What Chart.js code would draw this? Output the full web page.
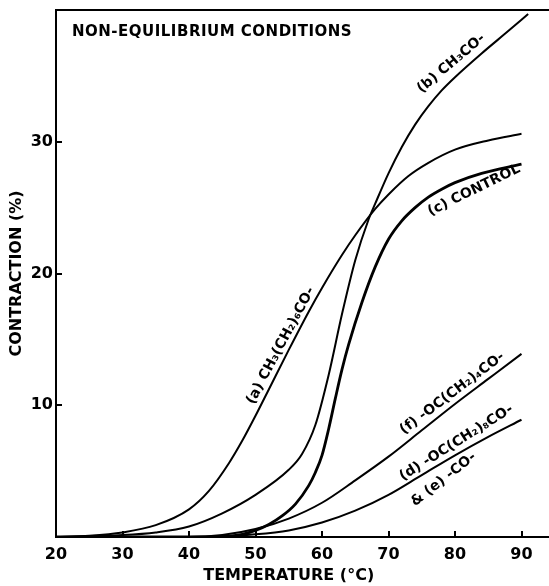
<!DOCTYPE html>
<html>
<head>
<meta charset="utf-8">
<script src="https://cdn.jsdelivr.net/npm/chart.js@4"></script>
<style>
  html, body { margin: 0; padding: 0; background: #fff; overflow: hidden; }
  #wrap { width: 549px; height: 586px; overflow: hidden; }
</style>
</head>
<body>
<div id="wrap"><canvas id="contractionChart" width="600" height="586"></canvas></div>
<script>
// temperature (C) vs contraction (%)
const tempA = [20, 25, 30, 35, 40, 43, 46, 48, 50, 52, 55, 58, 60, 63, 65, 68, 70, 73, 76, 80, 85, 90];
const contractA = [0, 0.1, 0.35, 0.9, 2.1, 3.5, 5.6, 7.3, 9.2, 11.2, 14.2, 17.1, 18.9, 21.4, 22.9, 24.9, 26.0, 27.4, 28.4, 29.4, 30.1, 30.6];

const tempB = [20, 30, 35, 40, 45, 50, 55, 57, 59, 61, 63, 65, 67, 68, 70, 72, 74, 76, 78, 80, 84, 88, 91];
const contractB = [0, 0.15, 0.35, 0.8, 1.8, 3.2, 5.1, 6.3, 8.5, 12.3, 16.9, 21.0, 24.1, 25.3, 27.6, 29.6, 31.3, 32.7, 33.9, 34.9, 36.7, 38.4, 39.7];

const tempC = [20, 40, 45, 48, 50, 52, 54, 56, 58, 59, 60, 61, 62, 63, 64, 66, 68, 70, 72, 74, 76, 78, 80, 84, 90];
const contractC = [0, 0, 0.03, 0.2, 0.5, 0.95, 1.6, 2.5, 3.9, 4.9, 6.2, 8.2, 10.5, 12.7, 14.6, 17.8, 20.5, 22.6, 24.0, 25.0, 25.8, 26.4, 26.9, 27.6, 28.3];

const tempF = [20, 40, 45, 50, 55, 60, 65, 70, 75, 80, 85, 90];
const contractF = [0, 0, 0.15, 0.6, 1.4, 2.6, 4.3, 6.1, 8.1, 10.1, 12.0, 13.9];

const tempDE = [20, 40, 45, 50, 55, 60, 65, 70, 75, 80, 85, 90];
const contractDE = [0, 0, 0.05, 0.2, 0.5, 1.1, 2.0, 3.2, 4.7, 6.2, 7.6, 8.9];

const xTicks = [20, 30, 40, 50, 60, 70, 80, 90];
const yTicks = [10, 20, 30];

// anchor point on the curve, text angle, offset (px) above (+) or below (-) the curve
const curveLabels = [
  { text: '(a) CH₃(CH₂)₆CO-', x: 55, y: 14.2, angle: -62, offset: 9 },
  { text: '(b) CH₃CO-', x: 80.5, y: 35.3, angle: -40, offset: 11 },
  { text: '(c) CONTROL', x: 82, y: 27.2, angle: -26, offset: -13 },
  { text: '(f) -OC(CH₂)₄CO-', x: 80.5, y: 10.3, angle: -37, offset: 10 },
  { text: '(d) -OC(CH₂)₈CO-', x: 81, y: 6.5, angle: -32, offset: 10 },
  { text: '& (e) -CO-', x: 77, y: 5.2, angle: -38, offset: -14 }
];

const FONT = '"DejaVu Sans", sans-serif';

function toPoints(xs, ys) {
  return xs.map((t, i) => ({ x: t, y: ys[i] }));
}

function curve(xs, ys, width) {
  return {
    data: toPoints(xs, ys),
    borderColor: '#000',
    borderWidth: width,
    pointRadius: 0,
    fill: false,
    cubicInterpolationMode: 'monotone'
  };
}

const textPlugin = {
  id: 'textPlugin',
  afterDatasetsDraw(chart) {
    const { ctx, chartArea, scales } = chart;
    const x = scales.x, y = scales.y;
    ctx.save();
    ctx.strokeStyle = '#000';
    ctx.lineWidth = 2;
    ctx.beginPath();
    ctx.moveTo(chartArea.left - 1, chartArea.top);
    ctx.lineTo(chartArea.right, chartArea.top);
    ctx.stroke();

    ctx.fillStyle = '#000';
    ctx.font = 'bold 15px ' + FONT;
    ctx.letterSpacing = '0.5px';
    ctx.textAlign = 'left';
    ctx.textBaseline = 'middle';
    ctx.fillText('NON-EQUILIBRIUM CONDITIONS', x.getPixelForValue(22.4), y.getPixelForValue(38.3));
    ctx.letterSpacing = '0px';

    ctx.font = 'bold 14px ' + FONT;
    ctx.textAlign = 'center';
    curveLabels.forEach(l => {
      ctx.save();
      ctx.translate(x.getPixelForValue(l.x), y.getPixelForValue(l.y));
      ctx.rotate(l.angle * Math.PI / 180);
      ctx.fillText(l.text, 0, -l.offset);
      ctx.restore();
    });

    ctx.font = 'bold 16px ' + FONT;
    ctx.fillText('TEMPERATURE (°C)', x.getPixelForValue(55), chart.height - 10);
    ctx.restore();
  }
};

new Chart(document.getElementById('contractionChart'), {
  type: 'line',
  data: {
    datasets: [
      curve(tempA, contractA, 2),
      curve(tempB, contractB, 2),
      curve(tempC, contractC, 2.8),
      curve(tempF, contractF, 2),
      curve(tempDE, contractDE, 2)
    ]
  },
  options: {
    responsive: false,
    animation: false,
    layout: { padding: { top: 0, right: 12, left: 0, bottom: 0 } },
    plugins: { legend: { display: false }, tooltip: { enabled: false } },
    scales: {
      x: {
        type: 'linear',
        min: 20,
        max: 100,
        afterFit: s => { s.height = 49; },
        afterBuildTicks: s => { s.ticks = xTicks.map(v => ({ value: v })); },
        ticks: { color: '#000', padding: 14, maxRotation: 0, font: { family: FONT, weight: 'bold', size: 16 } },
        grid: { drawOnChartArea: false, tickLength: -6, color: '#000', lineWidth: 2 },
        border: { color: '#000', width: 2 }
      },
      y: {
        min: 0,
        max: 40,
        afterFit: s => { s.width = 56; s.paddingTop = 10; s.paddingBottom = 0; },
        afterBuildTicks: s => { s.ticks = yTicks.map(v => ({ value: v })); },
        ticks: { color: '#000', padding: 9, font: { family: FONT, weight: 'bold', size: 16 } },
        grid: { drawOnChartArea: false, tickLength: -6, color: '#000', lineWidth: 2 },
        border: { color: '#000', width: 2 },
        title: { display: true, text: 'CONTRACTION (%)', color: '#000', padding: { top: 7, bottom: 0 }, font: { family: FONT, weight: 'bold', size: 16 } }
      }
    }
  },
  plugins: [textPlugin]
});
</script>
</body>
</html>
